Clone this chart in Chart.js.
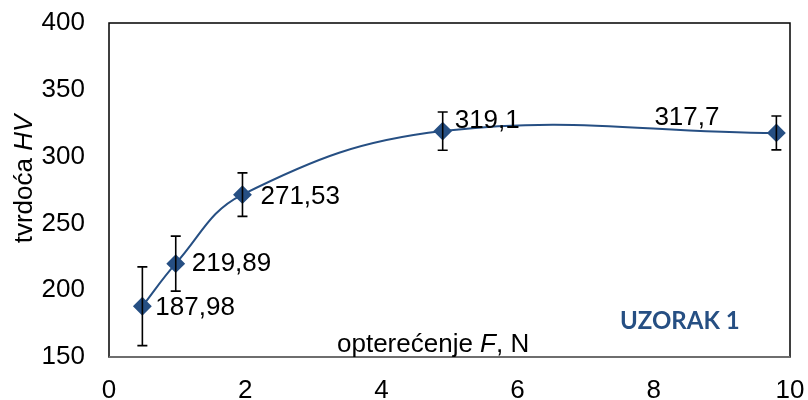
<!DOCTYPE html>
<html lang="hr">
<head>
<meta charset="UTF-8">
<title>Tvrdoća HV - Uzorak 1</title>
<script src="https://cdn.jsdelivr.net/npm/chart.js"></script>
<style>
  html, body { margin: 0; padding: 0; background: #fff; }
  #wrap { width: 808px; height: 400px; }
</style>
</head>
<body>
<div id="wrap"><canvas id="hvChart" width="808" height="400"></canvas></div>
<script>
// load F (N) vs hardness HV, with error bar half-widths
const loads = [0.49, 0.98, 1.96, 4.9, 9.8];
const hardness = [187.98, 219.89, 271.53, 319.1, 317.7];
const errors = [29.5, 20.6, 16.3, 14.3, 12.7];
const pointLabels = ['187,98', '219,89', '271,53', '319,1', '317,7'];
const xTicks = [0, 2, 4, 6, 8, 10];
const yTicks = [150, 200, 250, 300, 350, 400];

const blue = '#264F83';
const font = '"Liberation Sans", Arial, sans-serif';

// where each value label sits relative to its point
const labelOffsets = [[13, 2], [16, 0], [18, 2], [12, -10], [-122, -15]];

const extras = {
    id: 'extras',
    afterDatasetsDraw(chart) {
        const c = chart.ctx, a = chart.chartArea;
        const xs = chart.scales.x, ys = chart.scales.y;
        c.save();
        // frame round the plot
        c.strokeStyle = '#000';
        c.lineWidth = 1.5;
        c.strokeRect(a.left, a.top, a.right - a.left, a.bottom - a.top);
        c.strokeStyle = '#6e6e6e';
        c.lineWidth = 2;
        c.beginPath();
        c.moveTo(a.left, a.bottom); c.lineTo(a.right, a.bottom);
        c.stroke();

        // error bars
        c.strokeStyle = '#000';
        c.lineWidth = 1.6;
        loads.forEach((f, i) => {
            const x = xs.getPixelForValue(f);
            const y1 = ys.getPixelForValue(hardness[i] + errors[i]);
            const y2 = ys.getPixelForValue(hardness[i] - errors[i]);
            c.beginPath();
            c.moveTo(x, y1); c.lineTo(x, y2);
            c.moveTo(x - 5, y1); c.lineTo(x + 5, y1);
            c.moveTo(x - 5, y2); c.lineTo(x + 5, y2);
            c.stroke();
        });

        // value labels
        c.fillStyle = '#000';
        c.font = '26px ' + font;
        c.textBaseline = 'middle';
        c.textAlign = 'left';
        loads.forEach((f, i) => {
            const x = xs.getPixelForValue(f) + labelOffsets[i][0];
            const y = ys.getPixelForValue(hardness[i]) + labelOffsets[i][1];
            c.fillText(pointLabels[i], x, y);
        });

        // x axis title inside the plot
        c.textBaseline = 'alphabetic';
        let tx = 337, ty = 352;
        const parts = [['opterećenje ', ''], ['F', 'italic '], [', N', '']];
        parts.forEach(p => {
            c.font = p[1] + '26px ' + font;
            c.fillText(p[0], tx, ty);
            tx += c.measureText(p[0]).width;
        });

        // y axis title
        c.save();
        c.translate(32, 179);
        c.rotate(-Math.PI / 2);
        const yparts = [['tvrdoća ', ''], ['HV', 'italic ']];
        let w = 0;
        yparts.forEach(p => { c.font = p[1] + '26px ' + font; w += c.measureText(p[0]).width; });
        let px = -w / 2;
        yparts.forEach(p => {
            c.font = p[1] + '26px ' + font;
            c.fillText(p[0], px, 0);
            px += c.measureText(p[0]).width;
        });
        c.restore();

        // sample name
        c.fillStyle = blue;
        c.font = 'bold 24px Lato, "Open Sans", sans-serif';
        c.fillText('UZORAK 1', 620, 329);
        c.restore();
    }
};

new Chart(document.getElementById('hvChart'), {
    type: 'line',
    data: {
        datasets: [{
            data: loads.map((f, i) => ({ x: f, y: hardness[i] })),
            borderColor: blue,
            borderWidth: 2,
            backgroundColor: blue,
            pointStyle: 'rectRot',
            pointRadius: 8,
            pointHoverRadius: 8,
            tension: 0.4,
            fill: false
        }]
    },
    options: {
        responsive: false,
        animation: false,
        events: [],
        layout: { padding: { top: 23, right: 18, left: 0, bottom: 0 } },
        plugins: { legend: { display: false }, tooltip: { enabled: false } },
        scales: {
            x: {
                type: 'linear',
                min: 0, max: 10,
                afterBuildTicks: s => { s.ticks = xTicks.map(v => ({ value: v })); },
                afterFit: s => { s.height = 43; s.paddingLeft = 0; s.paddingRight = 0; },
                grid: { display: false, drawTicks: false },
                border: { display: false },
                ticks: { color: '#000', font: { family: font, size: 26 }, padding: 18, maxRotation: 0 }
            },
            y: {
                min: 150, max: 400,
                afterBuildTicks: s => { s.ticks = yTicks.map(v => ({ value: v })); },
                afterFit: s => { s.width = 109; s.paddingTop = 0; s.paddingBottom = 0; },
                grid: { display: false, drawTicks: false },
                border: { display: false },
                ticks: { color: '#000', font: { family: font, size: 26 }, padding: 24 }
            }
        }
    },
    plugins: [extras]
});
</script>
</body>
</html>
